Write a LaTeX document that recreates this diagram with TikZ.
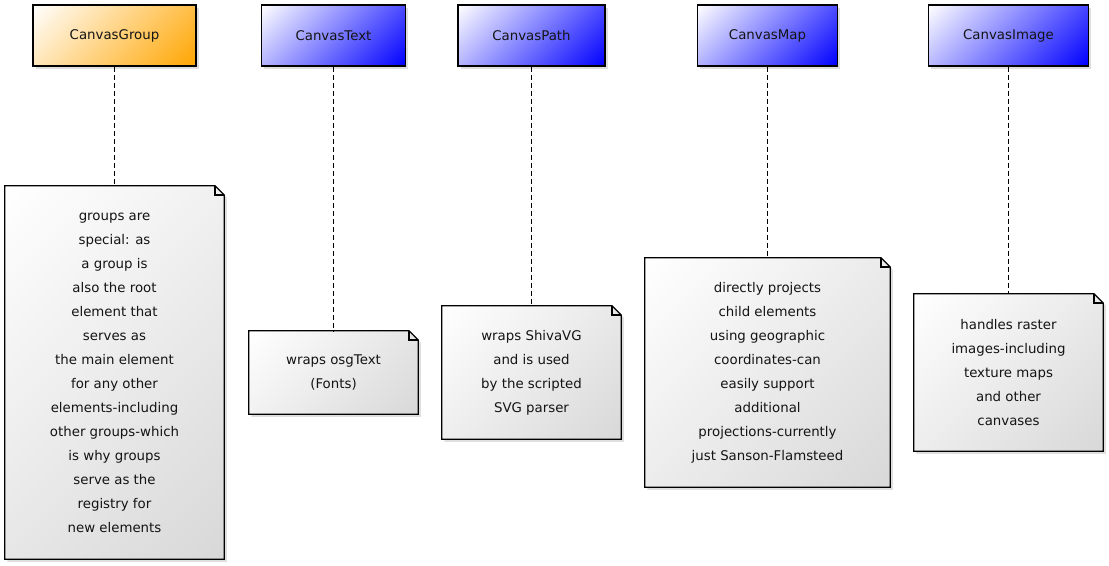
\documentclass[tikz,border=0pt]{standalone}
\usepackage{fontspec}
\setmainfont{DejaVu Sans}
\usetikzlibrary{shadows,backgrounds}
\definecolor{hdrblue}{RGB}{0,0,255}
\definecolor{hdrorange}{RGB}{255,165,0}
\definecolor{notegray}{RGB}{216,216,216}
\definecolor{txt}{RGB}{20,20,20}
\pgfdeclareverticalshading{hblueshade}{100bp}{color(0bp)=(hdrblue); color(14.6bp)=(hdrblue); color(85.4bp)=(white); color(100bp)=(white)}
\pgfdeclareverticalshading{horangeshade}{100bp}{color(0bp)=(hdrorange); color(14.6bp)=(hdrorange); color(85.4bp)=(white); color(100bp)=(white)}
\pgfdeclareverticalshading{hnoteshade}{100bp}{color(0bp)=(notegray); color(14.6bp)=(notegray); color(85.4bp)=(white); color(100bp)=(white)}
\tikzset{
  lbl/.style={font=\fontsize{10pt}{18pt}\selectfont, align=center, text=txt},
  hdr/.style={lbl, draw=black, line width=1pt, minimum height=45.75pt,
    drop shadow={opacity=0.25, shadow xshift=2pt, shadow yshift=-2pt}},
  hblue/.style={hdr, shading=hblueshade, shading angle=45},
  horange/.style={hdr, shading=horangeshade, shading angle=45},
  notebox/.style={lbl, inner sep=0pt},
  noteshape/.style={draw=black, line width=1pt, shading=hnoteshade,
    shading angle=45, drop shadow={opacity=0.25, shadow xshift=2pt, shadow yshift=-2pt}},
  conn/.style={draw=black, line width=1pt, dash pattern=on 3.75pt off 2.25pt}
}
\newcommand{\dogear}[1]{%
  \path[noteshape] (#1.south west) -- (#1.north west) -- ([xshift=-7pt]#1.north east)
    -- ([yshift=-7pt]#1.north east) -- (#1.south east) -- cycle;
  \draw[line width=0.9pt] ([xshift=-7pt]#1.north east) -- ([xshift=-7pt,yshift=-7pt]#1.north east)
    -- ([yshift=-7pt]#1.north east);
}
\begin{document}
\begin{tikzpicture}[x=0.75pt,y=-0.75pt]
\useasboundingbox (0,0) rectangle (1109,565);
% headers
\node[horange, minimum width=122.25pt] (hG) at (114.5,35.5) {CanvasGroup};
\node[hblue, minimum width=108pt] (hT) at (333.5,35.5) {CanvasText};
\node[hblue, minimum width=110.25pt] (hP) at (531.5,35.5) {CanvasPath};
\node[hblue, minimum width=105pt] (hM) at (767.5,35.5) {CanvasMap};
\node[hblue, minimum width=120pt] (hI) at (1008.5,35.5) {CanvasImage};
% notes
\node[notebox, minimum width=164.25pt, minimum height=279.75pt] (nG) at (114.5,372.5)
 {groups are\\special: as\\a group is\\also the root\\element that\\serves as\\the main element\\for any other\\elements-including\\other groups-which\\is why groups\\serve as the\\registry for\\new elements};
\node[notebox, minimum width=126.75pt, minimum height=62.25pt] (nT) at (333.5,372.5)
 {wraps osgText\\(Fonts)};
\node[notebox, minimum width=134.25pt, minimum height=99.75pt] (nP) at (531.5,372.5)
 {wraps ShivaVG\\and is used\\by the scripted\\SVG parser};
\node[notebox, minimum width=183.75pt, minimum height=171.75pt] (nM) at (767.5,372.5)
 {directly projects\\child elements\\using geographic\\coordinates-can\\easily support\\additional\\projections-currently\\just Sanson-Flamsteed};
\node[notebox, minimum width=141.75pt, minimum height=117.75pt] (nI) at (1008.5,372.5)
 {handles raster\\images-including\\texture maps\\and other\\canvases};
\begin{scope}[on background layer]
\dogear{nG}
\dogear{nT}
\dogear{nP}
\dogear{nM}
\dogear{nI}
\end{scope}
% connectors
\draw[conn] (hG.south) -- (nG.north);
\draw[conn] (hT.south) -- (nT.north);
\draw[conn] (hP.south) -- (nP.north);
\draw[conn] (hM.south) -- (nM.north);
\draw[conn] (hI.south) -- (nI.north);
\end{tikzpicture}
\end{document}
